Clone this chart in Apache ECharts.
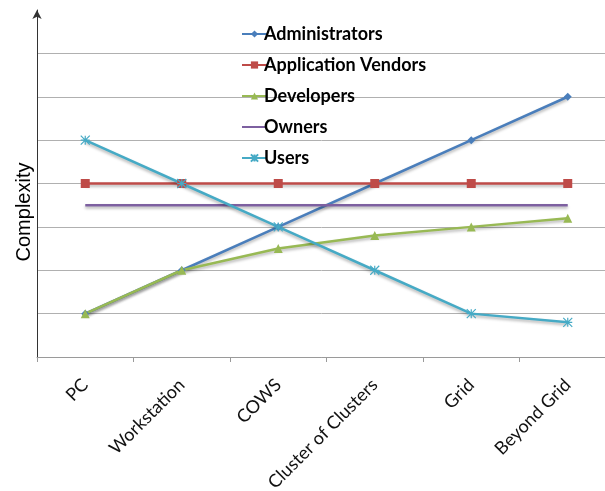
<!DOCTYPE html>
<html>
<head>
<meta charset="utf-8">
<script src="https://cdn.jsdelivr.net/npm/echarts@6/dist/echarts.min.js"></script>
<style>
  html, body { margin: 0; padding: 0; background: #fff; }
  #chart { width: 605px; height: 491px; }
</style>
</head>
<body>
<div id="chart"></div>
<script type="text/javascript">
  var categories = ['PC', 'Workstation', 'COWS', 'Cluster of Clusters', 'Grid', 'Beyond Grid'];
  var administrators = [1, 2, 3, 4, 5, 6];
  var appVendors = [4, 4, 4, 4, 4, 4];
  var developers = [1, 2, 2.5, 2.8, 3.0, 3.2];
  var owners = [3.5, 3.5, 3.5, 3.5, 3.5, 3.5];
  var users = [5, 4, 3, 2, 1, 0.8];

  var shadow = { shadowBlur: 3, shadowColor: 'rgba(0,0,0,0.3)', shadowOffsetY: 2 };

  function lineSeries(name, data, color, symbol, size, extra) {
    var s = {
      name: name,
      type: 'line',
      data: data,
      symbol: symbol,
      symbolSize: size,
      showSymbol: symbol !== 'none',
      lineStyle: Object.assign({ color: color, width: 2.5 }, shadow),
      itemStyle: { color: color }
    };
    return Object.assign(s, extra || {});
  }

  var chart = echarts.init(document.getElementById('chart'));
  var option = {
    animation: false,
    grid: { left: 37, top: 10, right: -11, bottom: 134, outerBoundsMode: 'none', containLabel: false },
    legend: {
      orient: 'vertical',
      left: 236,
      top: 19,
      itemWidth: 25,
      itemHeight: 9,
      itemGap: 11,
      textStyle: { fontFamily: 'Lato', fontWeight: 'bold', fontSize: 18, lineHeight: 20, color: '#000', padding: [0, 0, 0, -8] },
      data: ['Administrators', 'Application Vendors', 'Developers',
        { name: 'Owners', itemStyle: { opacity: 0 } }, 'Users']
    },
    graphic: [{
      type: 'text',
      x: 24,
      y: 212,
      rotation: Math.PI / 2,
      style: {
        text: 'Complexity',
        fontFamily: 'Liberation Sans',
        fontSize: 20,
        fill: '#000',
        align: 'center',
        verticalAlign: 'middle'
      }
    }],
    xAxis: {
      type: 'category',
      data: categories,
      boundaryGap: true,
      axisLine: { lineStyle: { color: '#9a9a9a', width: 1 } },
      axisTick: { show: true, length: 5, lineStyle: { color: '#9a9a9a' } },
      axisLabel: { rotate: 45, margin: 25, fontFamily: 'Lato', fontSize: 18, color: '#111' }
    },
    yAxis: {
      type: 'value',
      min: 0,
      max: 8,
      interval: 1,
      axisLine: { show: true, symbol: ['none', 'arrow'], symbolSize: [7, 9], lineStyle: { color: '#333', width: 1 } },
      axisTick: { show: false },
      axisLabel: { show: false },
      splitLine: { show: true, showMaxLine: false, lineStyle: { color: '#b0b0b0', width: 1 } }
    },
    series: [
      lineSeries('Administrators', administrators, '#4a7ebb', 'diamond', 8),
      lineSeries('Application Vendors', appVendors, '#be4b48', 'rect', 9),
      lineSeries('Developers', developers, '#98b954', 'triangle', 9),
      lineSeries('Owners', owners, '#7d60a0', 'none', 0),
      lineSeries('Users', users, '#46aac5', 'path://M0,0 L10,10 M10,0 L0,10 M5,0 L5,10 M0,5 L10,5', 9,
        { itemStyle: { color: '#46aac5', borderColor: '#46aac5', borderWidth: 1.2 } })
    ]
  };
  chart.setOption(option);
</script>
</body>
</html>
